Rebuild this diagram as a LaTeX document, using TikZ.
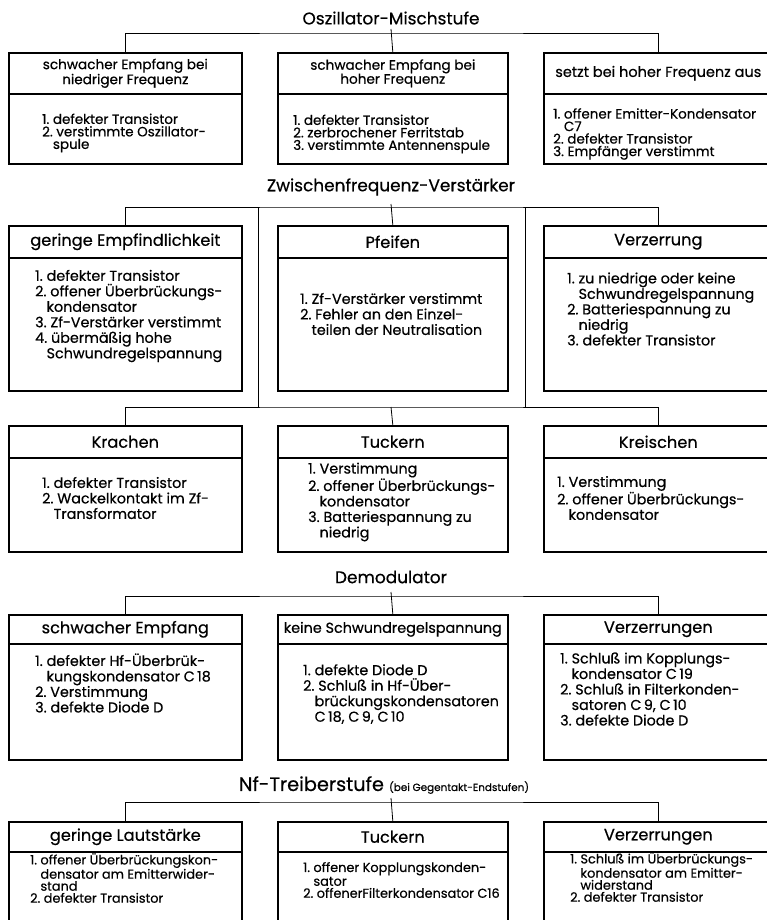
\documentclass[tikz,border=0pt]{standalone}
\usepackage{fontspec}
\setmainfont{Poppins}[FakeBold=0.5]
\newcommand\fitto[3]{%
  \setbox0=\hbox{\fontsize{10}{12}\selectfont #3}%
  \pgfmathsetmacro\fsz{10*#1/\the\wd0}%
  \fontsize{\fsz}{#2}\selectfont}
\begin{document}
\begin{tikzpicture}[x=1pt,y=-1pt,
  hd/.style={draw, line width=1.6pt, inner sep=0pt, anchor=north west},
  bus/.style={line width=0.8pt},
  ttl/.style={font=\fitto{248}{20}{Zwischenfrequenz-Verstärker}},
  h1/.style={align=center, font=\fitto{165}{14}{schwacher Empfang bei}},
  h1r/.style={align=center, font=\fitto{206}{14}{setzt bei hoher Frequenz aus}},
  h2/.style={align=center, font=\fitto{190}{18}{geringe Empfindlichkeit}},
  h4/.style={align=center, font=\fitto{218}{18}{keine Schwundregelspannung}},
  i1/.style={align=left, anchor=west, inner sep=0pt, font=\fitto{203}{12.5}{1.\ offener Emitter-Kondensator}},
  i2/.style={align=left, anchor=west, inner sep=0pt, font=\fitto{186}{15.5}{3.\ Zf-Verstärker verstimmt}},
  i5/.style={align=left, anchor=west, inner sep=0pt, font=\fitto{188}{12}{1.\ offener Überbrückungskon-}}]
\newcommand\mkbox[6]{%
  \pgfmathsetmacro\bw{#3-#2}\pgfmathsetmacro\hh{#5-#4}\pgfmathsetmacro\bh{#6-#5}%
  \node[hd, minimum width=\bw pt, minimum height=\hh pt] (#1h) at (#2,#4) {};
  \node[hd, minimum width=\bw pt, minimum height=\bh pt] (#1b) at (#2,#5) {};}
\newcommand\ind{\phantom{1.\ }}
\clip (0,0) rectangle (767,920);
\fill[white] (0,0) rectangle (767,920);

% ---------- Oszillator-Mischstufe
\node[ttl] (t1) at (391,18) {Oszillator-Mischstufe};
\mkbox{a1}{8}{241}{52}{93}{163}
\mkbox{a2}{277}{507}{52}{93}{163}
\mkbox{a3}{543}{772}{52}{93}{163}
\coordinate (b1) at (391,33);
\coordinate (b1t) at (391,29);
\draw[bus] (a1h.north) |- (b1) -| (a3h.north);
\draw[bus] (b1t) -- (a2h.north);
\node[h1] (a1ht) at (a1h.center) {schwacher Empfang bei\\niedriger Frequenz};
\node[h1] (a2ht) at (a2h.center) {schwacher Empfang bei\\hoher Frequenz};
\node[h1r] (a3ht) at (a3h.center) {setzt bei hoher Frequenz aus};
\node[i1] (a1bt) at (42,133) {1.\ defekter Transistor\\2.\ verstimmte Oszillator-\\\ind spule};
\node[i1] (a2bt) at (293,134) {1.\ defekter Transistor\\2.\ zerbrochener Ferritstab\\3.\ verstimmte Antennenspule};
\node[i1] (a3bt) at (553,134) {1.\ offener Emitter-Kondensator\\\ind C7\\2.\ defekter Transistor\\3.\ Empfänger verstimmt};

% ---------- Zwischenfrequenz-Verstaerker
\node[ttl] (t2) at (391,187) {Zwischenfrequenz-Verstärker};
\mkbox{b1}{8}{241}{225}{257}{390}
\mkbox{b2}{277}{507}{225}{257}{390}
\mkbox{b3}{543}{772}{225}{257}{390}
\coordinate (b2) at (391,207);
\coordinate (b2t) at (391,204);
\draw[bus] (b1h.north) |- (b2) -| (b3h.north);
\draw[bus] (b2t) -- (b2h.north);
\node[h2] (b1ht) at (b1h.center) {geringe Empfindlichkeit};
\node[h2] (b2ht) at (b2h.center) {Pfeifen};
\node[h2] (b3ht) at (b3h.center) {Verzerrung};
\node[i2] (b1bt) at (35,316) {1.\ defekter Transistor\\2.\ offener Überbrückungs-\\\ind kondensator\\3.\ Zf-Verstärker verstimmt\\4.\ übermäßig hohe\\\ind Schwundregelspannung};
\node[i2] (b2bt) at (300,314) {1.\ Zf-Verstärker verstimmt\\2.\ Fehler an den Einzel-\\\ind teilen der Neutralisation};
\node[i2] (b3bt) at (567,309) {1.\ zu niedrige oder keine\\\ind Schwundregelspannung\\2.\ Batteriespannung zu\\\ind niedrig\\3.\ defekter Transistor};

% ---------- second row of the Zf section
\coordinate (v1) at (258,207);
\coordinate (v2) at (525,207);
\coordinate (b3) at (391,407);
\draw[bus] (v1) -- (v1 |- b3);
\draw[bus] (v2) -- (v2 |- b3);
\mkbox{c1}{8}{241}{425}{457}{551}
\mkbox{c2}{277}{507}{425}{457}{551}
\mkbox{c3}{543}{772}{425}{457}{551}
\draw[bus] (c1h.north) |- (b3) -| (c3h.north);
\draw[bus] (b3) -- (c2h.north);
\node[h2] (c1ht) at (c1h.center) {Krachen};
\node[h2] (c2ht) at (c2h.center) {Tuckern};
\node[h2] (c3ht) at (c3h.center) {Kreischen};
\node[i2] (c1bt) at (42,498) {1.\ defekter Transistor\\2.\ Wackelkontakt im Zf-\\\ind Transformator};
\node[i2] (c2bt) at (308,502) {1.\ Verstimmung\\2.\ offener Überbrückungs-\\\ind kondensator\\3.\ Batteriespannung zu\\\ind niedrig};
\node[i2] (c3bt) at (557,498) {1.\ Verstimmung\\2.\ offener Überbrückungs-\\\ind kondensator};

% ---------- Demodulator
\node[ttl] (t4) at (391,577) {Demodulator};
\mkbox{d1}{8}{241}{614}{643}{759}
\mkbox{d2}{277}{507}{614}{643}{759}
\mkbox{d3}{543}{772}{614}{643}{759}
\coordinate (b4) at (391,596);
\coordinate (b4t) at (391,592);
\draw[bus] (d1h.north) |- (b4) -| (d3h.north);
\draw[bus] (b4t) -- (d2h.north);
\node[h2] (d1ht) at (d1h.center) {schwacher Empfang};
\node[h4] (d2ht) at (d2h.center) {keine Schwundregelspannung};
\node[h2] (d3ht) at (d3h.center) {Verzerrungen};
\node[i2] (d1bt) at (35,683) {1.\ defekter Hf-Überbrük-\\\ind kungskondensator C\,18\\2.\ Verstimmung\\3.\ defekte Diode D};
\node[i2] (d2bt) at (303,694) {1.\ defekte Diode D\\2.\ Schluß in Hf-Über-\\\ind brückungskondensatoren\\\ind C\,18, C\,9, C\,10};
\node[i2] (d3bt) at (560,689) {1.\ Schluß im Kopplungs-\\\ind kondensator C\,19\\2.\ Schluß in Filterkonden-\\\ind satoren C\,9, C\,10\\3.\ defekte Diode D};

% ---------- Nf-Treiberstufe
\node[ttl] (t5) at (384,785) {\fitto{145}{20}{Nf-Treiberstufe}Nf-Treiberstufe {\fitto{140}{12}{(bei Gegentakt-Endstufen)}(bei Gegentakt-Endstufen)}};
\mkbox{e1}{8}{241}{821}{851}{940}
\mkbox{e2}{277}{507}{821}{851}{940}
\mkbox{e3}{543}{772}{821}{851}{940}
\coordinate (b5) at (391,802);
\coordinate (b5t) at (391,798);
\draw[bus] (e1h.north) |- (b5) -| (e3h.north);
\draw[bus] (b5t) -- (e2h.north);
\node[h2] (e1ht) at (e1h.center) {geringe Lautstärke};
\node[h2] (e2ht) at (e2h.center) {Tuckern};
\node[h2] (e3ht) at (e3h.center) {Verzerrungen};
\node[i5] (e1bt) at (30,878) {1.\ offener Überbrückungskon-\\\ind densator am Emitterwider-\\\ind stand\\2.\ defekter Transistor};
\node[i5] (e2bt) at (303,880) {1.\ offener Kopplungskonden-\\\ind sator\\2.\ offenerFilterkondensator C16};
\node[i5] (e3bt) at (570,877) {1.\ Schluß im Überbrückungs-\\\ind kondensator am Emitter-\\\ind widerstand\\2.\ defekter Transistor};
\end{tikzpicture}
\end{document}
